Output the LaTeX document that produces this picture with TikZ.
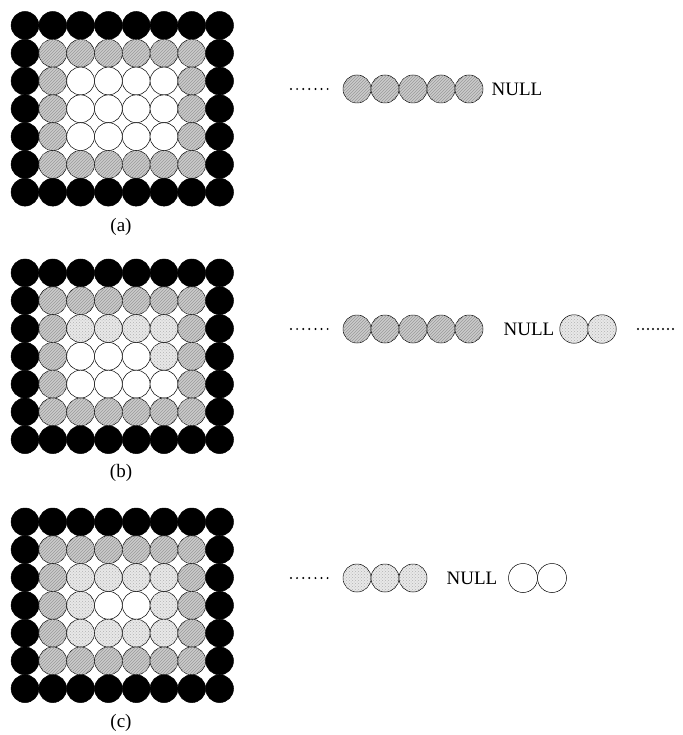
\documentclass[tikz,border=0pt]{standalone}
\usepackage{fontspec}
\setmainfont{Liberation Serif}
\usepackage{tikz}
\usetikzlibrary{patterns}

% one cavity: #1 name, #2 top edge, #3 list of row/col cells that are lightly shaded
\newcommand{\cavity}[3]{%
  \foreach \r/\c in {#3}{\expandafter\gdef\csname lt#1-\r-\c\endcsname{}}
  \foreach \r in {0,...,6}{
    \foreach \c in {0,...,7}{
      \pgfmathtruncatemacro{\edge}{(\r==0)||(\r==6)||(\c==0)||(\c==7)}
      \pgfmathtruncatemacro{\ring}{(\r==1)||(\r==5)||(\c==1)||(\c==6)}
      \ifnum\edge=1
        \node[wall] (#1-\r-\c) at (25+27.8*\c, #2+13.9+27.8*\r) {};
      \else\ifnum\ring=1
        \node[dense] (#1-\r-\c) at (25+27.8*\c, #2+13.9+27.8*\r) {};
      \else\ifcsname lt#1-\r-\c\endcsname
        \node[light] (#1-\r-\c) at (25+27.8*\c, #2+13.9+27.8*\r) {};
      \else
        \node[empty] (#1-\r-\c) at (25+27.8*\c, #2+13.9+27.8*\r) {};
      \fi\fi\fi
    }
  }
}

\begin{document}
\begin{tikzpicture}[
    x=1pt, y=-1pt,
    font=\fontsize{19}{23}\selectfont,
    ball/.style={circle, draw=black, line width=0.5pt, inner sep=0pt, minimum size=27.8pt},
    wall/.style={ball, fill=black},
    dense/.style={ball, fill=gray!40, postaction={pattern=north east lines, pattern color=gray!80}},
    light/.style={ball, fill=gray!18, postaction={pattern=crosshatch dots, pattern color=gray!60}},
    empty/.style={ball, fill=white},
    dotline/.style={line width=2.2pt, line cap=round, dash pattern=on 0pt off 6.1pt},
    lbl/.style={inner sep=0pt}
]
\useasboundingbox (0,0) rectangle (682,735);

% --- CAVITIES ---
\cavity{a}{11.5}{}
\cavity{b}{259}{2/2,2/3,2/4,2/5,3/5}
\cavity{c}{508}{2/2,2/3,2/4,2/5,3/2,3/5,4/2,4/3,4/4,4/5}

\node[lbl] (la) at (121,227) {(a)};
\node[lbl] (lb) at (121,473) {(b)};
\node[lbl] (lc) at (121,723) {(c)};

% --- LIST (a) ---
\coordinate (a-dl) at (291,89);
\coordinate (a-dr) at (333.7,89);
\draw[dotline] (a-dl) -- (a-dr);
\foreach \k in {1,...,5}
  \node[dense, minimum size=28pt] (a-s\k) at (329+28*\k,89) {};
\node[lbl] (a-null) at (517,89) {NULL};

% --- LIST (b) ---
\coordinate (b-dl) at (291,329);
\coordinate (b-dr) at (333.7,329);
\draw[dotline] (b-dl) -- (b-dr);
\foreach \k in {1,...,5}
  \node[dense, minimum size=28pt] (b-s\k) at (329+28*\k,329) {};
\node[lbl] (b-null) at (529,329) {NULL};
\node[light, minimum size=28.5pt] (b-t1) at (574,329) {};
\node[light, minimum size=28.5pt] (b-t2) at (602,329) {};
\coordinate (b-el) at (638,329);
\coordinate (b-er) at (673,329);
\draw[dotline, dash pattern=on 0pt off 5pt] (b-el) -- (b-er);

% --- LIST (c) ---
\coordinate (c-dl) at (291,578);
\coordinate (c-dr) at (333.7,578);
\draw[dotline] (c-dl) -- (c-dr);
\foreach \k in {1,...,3}
  \node[light, minimum size=28pt] (c-s\k) at (329+28*\k,578) {};
\node[lbl] (c-null) at (472,578) {NULL};
\node[empty, minimum size=29pt] (c-t1) at (523,578) {};
\node[empty, minimum size=29pt] (c-t2) at (552,578) {};
\end{tikzpicture}
\end{document}
